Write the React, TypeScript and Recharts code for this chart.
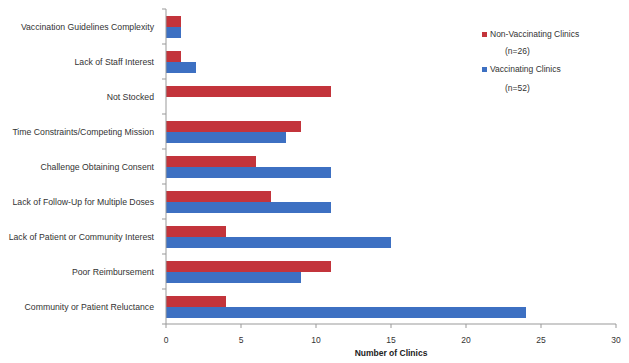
import React from "react";
import { BarChart, Bar, XAxis, YAxis } from "recharts";

const categories = [
  "Vaccination Guidelines Complexity",
  "Lack of Staff Interest",
  "Not Stocked",
  "Time Constraints/Competing Mission",
  "Challenge Obtaining Consent",
  "Lack of Follow-Up for Multiple Doses",
  "Lack of Patient or Community Interest",
  "Poor Reimbursement",
  "Community or Patient Reluctance",
];
const nonVaccinating = [1, 1, 11, 9, 6, 7, 4, 11, 4];
const vaccinating = [1, 2, 0, 8, 11, 11, 15, 9, 24];
const xTicks = [0, 5, 10, 15, 20, 25, 30];

const data = categories.map((name, i) => ({
  name,
  non: nonVaccinating[i],
  vac: vaccinating[i],
}));

const RED = "#c3343b";
const BLUE = "#3d70c2";
const FONT = "'Liberation Sans', Arial, sans-serif";
const W = 629;
const H = 363;
const TOP = 9;
const X_AXIS_H = 39;
const HALF_BAND = (H - TOP - X_AXIS_H) / categories.length / 2;

// category label plus the little tick marks at band edges
const CategoryTick = (props: any) => {
  const { x, y, payload, index } = props;
  const axisX = x + 8;
  const last = index === categories.length - 1;
  return (
    <g>
      <line x1={axisX - 4} x2={axisX} y1={y - HALF_BAND} y2={y - HALF_BAND} stroke="#999" />
      {last && <line x1={axisX - 4} x2={axisX} y1={y + HALF_BAND} y2={y + HALF_BAND} stroke="#999" />}
      <text
        x={x - 4}
        y={y}
        textAnchor="end"
        dominantBaseline="central"
        fontFamily={FONT}
        fontSize={8.7}
        fill="#333"
      >
        {payload.value}
      </text>
    </g>
  );
};

const LegendBox = () => (
  <div
    style={{
      position: "absolute",
      left: 482,
      top: 26,
      fontFamily: FONT,
      fontSize: 8.5,
      color: "#333",
      lineHeight: "17px",
    }}
  >
    <div style={{ display: "flex", alignItems: "center" }}>
      <span style={{ width: 5, height: 5, background: RED, marginRight: 3 }} />
      Non-Vaccinating Clinics
    </div>
    <div style={{ paddingLeft: 23 }}>(n=26)</div>
    <div style={{ display: "flex", alignItems: "center", marginTop: 1 }}>
      <span style={{ width: 5, height: 5, background: BLUE, marginRight: 3 }} />
      Vaccinating Clinics
    </div>
    <div style={{ paddingLeft: 23, marginTop: 2 }}>(n=52)</div>
  </div>
);

export default function App() {
  return (
    <div style={{ position: "absolute", left: 0, top: 0, width: W, height: H, background: "#fff" }}>
      <BarChart
        width={W}
        height={H}
        data={data}
        layout="vertical"
        margin={{ top: TOP, right: 13, bottom: 0, left: 0 }}
        barCategoryGap="20%"
        barGap={0}
      >
        <XAxis
          type="number"
          domain={[0, 30]}
          ticks={xTicks}
          height={X_AXIS_H}
          stroke="#999"
          tickSize={4}
          tickMargin={9}
          tick={{ fontFamily: FONT, fontSize: 8.5, fill: "#333" }}
          label={{
            value: "Number of Clinics",
            position: "insideBottom",
            offset: 7,
            style: { fontFamily: FONT, fontSize: 8.5, fontWeight: "bold", fill: "#222" },
          }}
        />
        <YAxis
          type="category"
          dataKey="name"
          width={166}
          stroke="#999"
          tickLine={false}
          tick={<CategoryTick />}
        />
        <Bar dataKey="non" name="Non-Vaccinating Clinics" fill={RED} isAnimationActive={false} />
        <Bar dataKey="vac" name="Vaccinating Clinics" fill={BLUE} isAnimationActive={false} />
      </BarChart>
      <LegendBox />
    </div>
  );
}
